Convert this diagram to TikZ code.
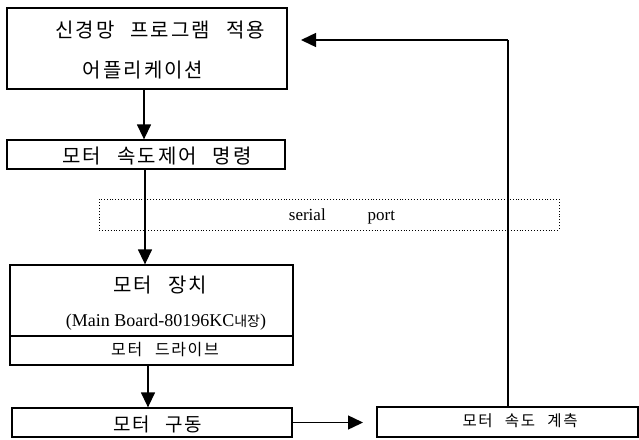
\documentclass[tikz,border=0pt]{standalone}
\usepackage{fontspec}
\usetikzlibrary{arrows.meta}
\setmainfont{Liberation Serif}
\newfontfamily\kr[LetterSpace=10]{Noto Sans CJK KR}
\newfontfamily\krn{Noto Sans CJK KR}
\newcommand{\ks}{\hspace{0.8em}}
\begin{document}
\begin{tikzpicture}[x=1pt,y=-1pt,
  boxst/.style={draw,line width=1.3pt,inner sep=0pt,anchor=center},
  dotbox/.style={draw,dotted,line width=0.9pt,inner sep=0pt},
  lbl/.style={inner sep=0pt,anchor=center},
  arr/.style={line width=1.4pt,-{Triangle[length=15pt,width=14pt]}},
  ln/.style={line width=1.4pt}]
\useasboundingbox (0,0) rectangle (639,439);
% boxes
\node[boxst,minimum width=280pt,minimum height=81pt] (b1) at (147,48.5) {};
\node[boxst,minimum width=278pt,minimum height=29pt] (b2) at (146,154.5) {};
\node[dotbox,minimum width=460pt,minimum height=31pt] (sp) at (329,214.5) {};
\node[boxst,minimum width=283pt,minimum height=71pt] (b3) at (151.5,300.5) {};
\node[boxst,minimum width=283pt,minimum height=29pt] (b3b) at (151.5,350.5) {};
\node[boxst,minimum width=280pt,minimum height=29pt] (b4) at (152,422.5) {};
\node[boxst,minimum width=261pt,minimum height=30pt] (b5) at (507.5,422) {};
% labels
\node[lbl] (t1a) at (160,30) {\fontsize{20}{23}\kr 신경망\ks 프로그램\ks 적용};
\node[lbl] (t1b) at (143,70) {\fontsize{20}{23}\kr 어플리케이션};
\node[lbl] (t2) at (157,156) {\fontsize{20}{23}\kr 모터\ks 속도제어\ks 명령};
\node[lbl] (tsp) at (342,216) {\fontsize{17}{19}\selectfont serial\hspace{42pt}port};
\node[lbl] (t3a) at (160,285) {\fontsize{20}{23}\kr 모터\ks 장치};
\node[lbl] (t3b) at (166,322) {\fontsize{18}{20}\selectfont (Main Board-80196KC{\fontsize{14}{16}\krn 내장})};
\node[lbl] (t3c) at (165,350) {\fontsize{16}{18}\kr 모터\ks 드라이브};
\node[lbl] (t4) at (158,424) {\fontsize{19}{21}\kr 모터\ks 구동};
\node[lbl] (t5) at (520,421) {\fontsize{15.5}{17}\kr 모터\ks 속도\ks 계측};
% connectors
\coordinate (x1) at (144,0);
\coordinate (x2) at (145,0);
\coordinate (x3) at (148,0);
\coordinate (fx) at (508,0);
\coordinate (fy) at (0,40);
\coordinate (tip) at (301,40);
\coordinate (tip2) at (363,0);
\draw[arr] (b1.south -| x1) -- (b2.north -| x1);
\draw[arr] (b2.south -| x2) -- (b3.north -| x2);
\draw[arr] (b3b.south -| x3) -- (b4.north -| x3);
\draw[arr] (b4.east) -- (tip2 |- b4.east);
\draw[ln] (b5.north -| fx) -- (fx |- fy);
\draw[arr] (fx |- fy) -- (tip);
\end{tikzpicture}
\end{document}
